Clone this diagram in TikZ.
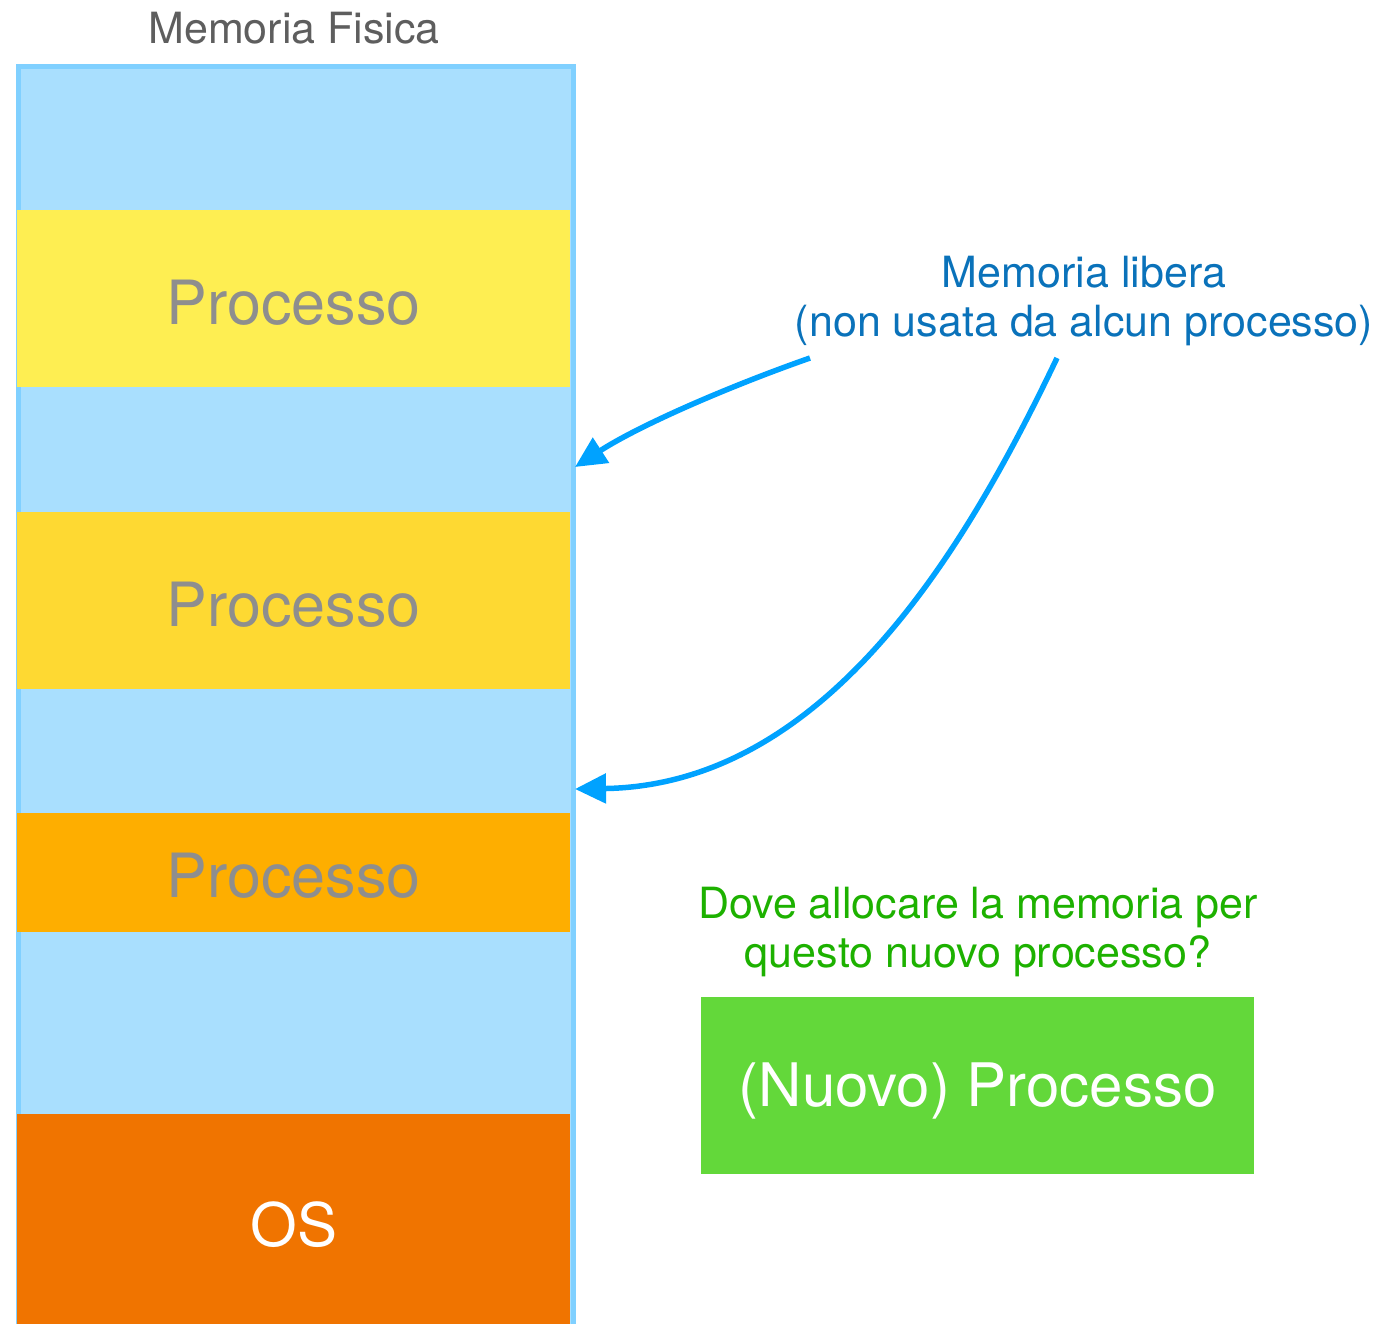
\documentclass[tikz,border=0pt]{standalone}
\usepackage{fontspec}
\setmainfont{TeX Gyre Heros}
\usetikzlibrary{arrows.meta}

\definecolor{freeblue}{HTML}{A9DFFE}
\definecolor{frameblue}{HTML}{80D0FF}
\definecolor{procyellow}{HTML}{FEEE52}
\definecolor{procgold}{HTML}{FED932}
\definecolor{procorange}{HTML}{FEAE00}
\definecolor{osorange}{HTML}{F07400}
\definecolor{newgreen}{HTML}{63D83A}
\definecolor{asktext}{HTML}{1DB100}
\definecolor{notetext}{HTML}{0A72BA}
\definecolor{arrowblue}{HTML}{00A2FF}
\definecolor{labelgray}{HTML}{8E8E8E}
\definecolor{titlegray}{HTML}{5E5E5E}

\tikzset{
  band/.style={anchor=north west, inner sep=0pt, minimum width=553pt, draw=none},
  bandtext/.style={font=\fontsize{61}{61}\selectfont, text=labelgray},
  smalltext/.style={font=\fontsize{43}{49}\selectfont, align=center, inner sep=0pt},
  freearrow/.style={draw=arrowblue, line width=5.5pt, -{Triangle[length=31pt,width=29pt]}},
}

\begin{document}
\begin{tikzpicture}[x=1pt,y=-1pt]
  \useasboundingbox (0,0) rectangle (1376,1323);

  % physical memory column (free space as background)
  \node[anchor=north west, inner sep=0pt, minimum width=555pt, minimum height=1265pt,
        fill=freeblue, draw=frameblue, line width=4.5pt] (mem) at (16,64) {};
  \node[smalltext, text=titlegray] (title) at (294,28) {Memoria Fisica};

  % occupied regions
  \node[band, fill=procyellow, minimum height=177pt] (p1) at (17,210) {};
  \node[bandtext] at ([yshift=-4pt]p1.center) {Processo};
  \node[band, fill=procgold, minimum height=177pt] (p2) at (17,512) {};
  \node[bandtext] at ([yshift=-4pt]p2.center) {Processo};
  \node[band, fill=procorange, minimum height=119pt] (p3) at (17,813) {};
  \node[bandtext] at ([yshift=-3pt]p3.center) {Processo};
  \node[band, fill=osorange, minimum height=212pt] (os) at (17,1114) {};
  \node[font=\fontsize{60}{60}\selectfont, text=white] at ([yshift=-4pt]os.center) {OS};

  % free gaps targeted by the arrows
  \coordinate (gapA) at (575,467);
  \coordinate (gapB) at (575,789);

  % note on free memory
  \node[smalltext, text=notetext] (note) at (1084,301)
    {Memoria libera\\(non usata da alcun processo)};
  \coordinate (srcA) at (810,358);
  \coordinate (srcB) at (1057,358);
  \draw[freearrow] (srcA) .. controls (730,386) and (640,425) .. (gapA);
  \draw[freearrow] (srcB) .. controls (970,540) and (830,785) .. (gapB);

  % new process waiting for allocation
  \node[smalltext, text=asktext] (ask) at (978,932)
    {Dove allocare la memoria per\\questo nuovo processo?};
  \node[anchor=north west, inner sep=0pt, minimum width=553pt, minimum height=177pt,
        fill=newgreen, draw=none] (new) at (701,997) {};
  \node[text=white, font=\fontsize{60}{60}\selectfont] at ([yshift=-5pt]new.center)
    {(Nuovo) Processo};
\end{tikzpicture}
\end{document}
